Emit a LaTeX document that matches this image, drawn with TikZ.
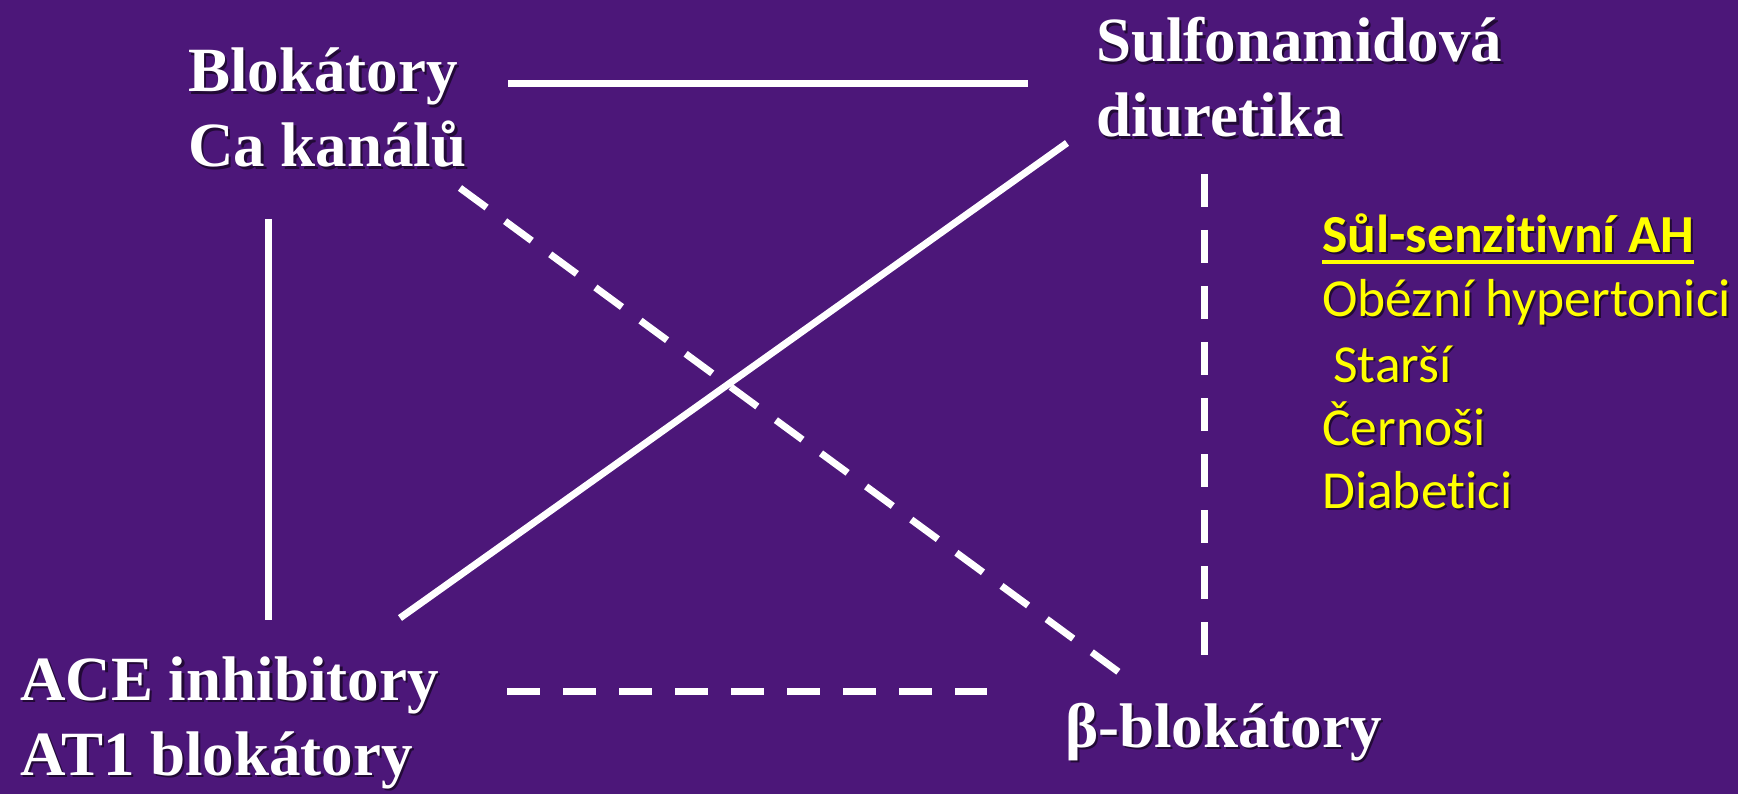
\documentclass[tikz,border=0pt]{standalone}
\usepackage{fontspec}
\setmainfont{Liberation Serif}
\newfontfamily\calfont[Ligatures=NoCommon]{Carlito}
\definecolor{bgpurple}{RGB}{76,23,121}
\definecolor{hlyellow}{RGB}{255,255,0}
\tikzset{
  wtxt/.style={inner sep=0pt, anchor=base west, text=white,
    font=\fontsize{63}{75}\selectfont\bfseries},
  ytxt/.style={inner sep=0pt, anchor=base west, text=hlyellow,
    font=\fontsize{53.5}{64}\selectfont\calfont},
  shad/.style={text=black, opacity=0.55},
  solidln/.style={white, line width=7pt},
  dashln/.style={white, line width=7pt, dash pattern=on 33pt off 23pt}
}
\newcommand\wlabel[4]{%
  \node[wtxt,shad] at (#2+2.5,#3+2.5) {#4};
  \node[wtxt] (#1) at (#2,#3) {#4};}
\newcommand\ylabel[5]{%
  \node[ytxt,shad,#5] at (#2+2,#3+2) {#4};
  \node[ytxt,#5] (#1) at (#2,#3) {#4};}
\begin{document}
\begin{tikzpicture}[x=1pt,y=-1pt]
\fill[bgpurple] (0,0) rectangle (1738,794);
\useasboundingbox (0,0) rectangle (1738,794);

% labels
\wlabel{blok1}{188}{92}{Blokátory}
\wlabel{blok2}{188}{167}{Ca kanálů}
\wlabel{sulf1}{1096}{62}{Sulfonamidová}
\wlabel{sulf2}{1096}{137}{diuretika}
\wlabel{ace1}{20}{700}{ACE inhibitory}
\wlabel{ace2}{20}{775}{AT1 blokátory}
\wlabel{beta}{1065}{747}{β-blokátory}

\ylabel{sul}{1322}{253}{Sůl-senzitivní AH}{font=\fontsize{53.5}{64}\selectfont\calfont\bfseries}
\ylabel{obez}{1322}{317}{Obézní hypertonici}{}
\ylabel{star}{1333}{382}{Starší}{}
\ylabel{cern}{1322}{445}{Černoši}{}
\ylabel{diab}{1322}{508}{Diabetici}{}
\draw[hlyellow, line width=3.5pt] ([yshift=-9pt]sul.base west) -- ([yshift=-9pt]sul.base east);

% connector end points
\coordinate (tl1) at (508,84);   \coordinate (tl2) at (1028,84);
\coordinate (vs1) at (268,219);  \coordinate (vs2) at (268,620);
\coordinate (ds1) at (400,618);  \coordinate (ds2) at (1067,143);
\coordinate (dd1) at (460,188);  \coordinate (dd2) at (1120,673);
\coordinate (vd1) at (1204,174); \coordinate (vd2) at (1204,655);
\coordinate (bd1) at (507,691);  \coordinate (bd2) at (987,691);

\draw[solidln] (tl1) -- (tl2);
\draw[solidln] (vs1) -- (vs2);
\draw[solidln] (ds1) -- (ds2);
\draw[dashln] (dd1) -- (dd2);
\draw[dashln] (vd1) -- (vd2);
\draw[dashln] (bd1) -- (bd2);
\end{tikzpicture}
\end{document}
